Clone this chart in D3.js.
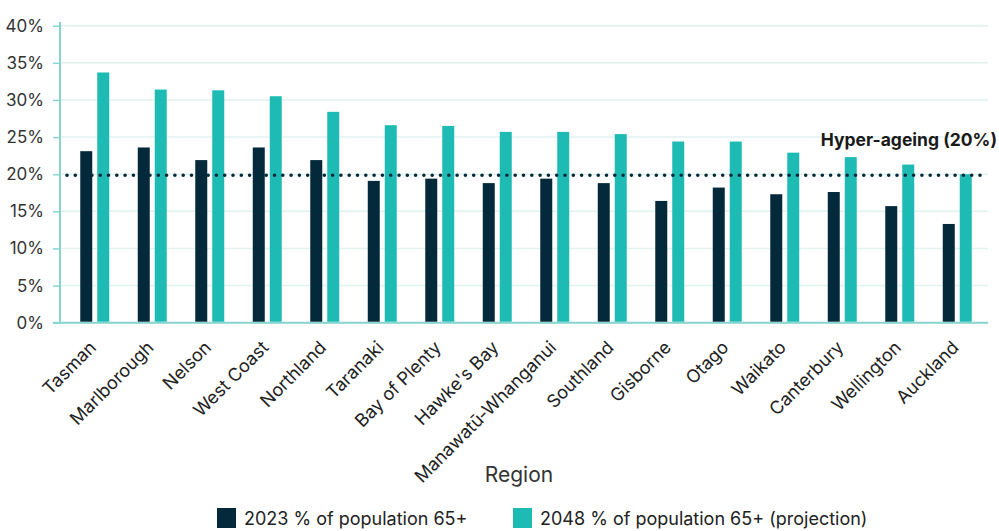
<!DOCTYPE html>
<html><head><meta charset="utf-8">
<script src="https://cdn.jsdelivr.net/npm/d3@7/dist/d3.min.js"></script>
<style>
html,body{margin:0;padding:0;background:#fff;}
svg{display:block;font-family:Inter,"Noto Sans",sans-serif;}
</style></head>
<body><svg id="c" width="999" height="531"></svg>
<script>
const regions = ["Tasman","Marlborough","Nelson","West Coast","Northland","Taranaki","Bay of Plenty","Hawke's Bay","Manawatū-Whanganui","Southland","Gisborne","Otago","Waikato","Canterbury","Wellington","Auckland"];
const values2023 = [23.1,23.6,21.9,23.6,21.9,19.1,19.4,18.8,19.4,18.8,16.4,18.2,17.3,17.6,15.7,13.3];
const values2048 = [33.7,31.4,31.3,30.5,28.4,26.6,26.5,25.7,25.7,25.4,24.4,24.4,22.9,22.3,21.3,20.0];
const seriesNames = ["2023 % of population 65+","2048 % of population 65+ (projection)"];
const yTicks = [0,5,10,15,20,25,30,35,40];
const threshold = 20;
const thresholdLabel = "Hyper-ageing (20%)";
const xTitle = "Region";

const colors = ["#03293a","#1dbbb4"];
const svg = d3.select("#c");
const x0 = d3.scaleBand().domain(regions).range([66,986]).paddingInner(0.496).paddingOuter(0.248);
const x1 = d3.scaleBand().domain([0,1]).range([0,x0.bandwidth()]).paddingInner(0.294);
const y = d3.scaleLinear().domain([0,40]).range([322.7,25.7]);

// gridlines
svg.append("g").selectAll("line").data(yTicks).join("line")
  .attr("x1",60).attr("x2",988).attr("y1",d=>y(d)).attr("y2",d=>y(d))
  .attr("stroke","#e2f2f0").attr("stroke-width",1.5);

// y axis
const yAxis = svg.append("g").attr("transform","translate(60,0)")
  .call(d3.axisLeft(y).tickValues(yTicks).tickFormat(d=>d+"%").tickSize(7).tickPadding(9));
yAxis.select(".domain").remove();
yAxis.selectAll(".tick line").attr("stroke","#86d5ce").attr("stroke-width",1.5);
yAxis.selectAll(".tick text").attr("font-size","17px").attr("fill","#333").attr("font-family","Inter,sans-serif");
svg.append("line").attr("x1",60).attr("x2",60).attr("y1",22).attr("y2",y(0)+1).attr("stroke","#86d5ce").attr("stroke-width",2);
svg.append("line").attr("x1",53).attr("x2",988).attr("y1",y(0)).attr("y2",y(0)).attr("stroke","#86d5ce").attr("stroke-width",2);

// bars
const data = regions.map((r,i)=>({r, v:[values2023[i],values2048[i]]}));
const g = svg.append("g").selectAll("g").data(data).join("g").attr("transform",d=>`translate(${x0(d.r)},0)`);
g.selectAll("rect").data(d=>d.v.map((v,k)=>({v,k}))).join("rect")
  .attr("x",d=>x1(d.k)).attr("width",x1.bandwidth())
  .attr("y",d=>y(d.v)).attr("height",d=>y(0)-y(d.v)-1)
  .attr("fill",d=>colors[d.k]);

// threshold line
svg.append("line").attr("x1",67).attr("x2",985).attr("y1",y(threshold)+1).attr("y2",y(threshold)+1)
  .attr("stroke","#03293a").attr("stroke-width",3.6).attr("stroke-linecap","round").attr("stroke-dasharray","0 8.3");
svg.append("text").attr("x",997).attr("y",y(threshold)-28).attr("text-anchor","end")
  .attr("font-size","17.5px").attr("font-weight","bold").attr("fill","#1a1a1a").text(thresholdLabel);

// x labels
const xl = svg.append("g").attr("transform",`translate(0,${y(0)})`)
  .call(d3.axisBottom(x0).tickSize(0).tickPadding(0));
xl.select(".domain").remove();
xl.selectAll(".tick text")
  .attr("font-size","18px").attr("fill","#222").attr("font-family","Inter,sans-serif")
  .attr("text-anchor","end").attr("dy","0")
  .attr("transform","translate(2.5,26) rotate(-45)");

svg.append("text").attr("x",519).attr("y",482).attr("text-anchor","middle")
  .attr("font-size","21px").attr("fill","#333").text(xTitle);

// legend
const leg = [{x:217,tx:244},{x:513,tx:540}];
seriesNames.forEach((s,i)=>{
  svg.append("rect").attr("x",leg[i].x).attr("y",508).attr("width",19).attr("height",20).attr("fill",colors[i]);
  svg.append("text").attr("x",leg[i].tx).attr("y",524.5).attr("font-size","18px").attr("fill","#222").text(s);
});
</script></body></html>
